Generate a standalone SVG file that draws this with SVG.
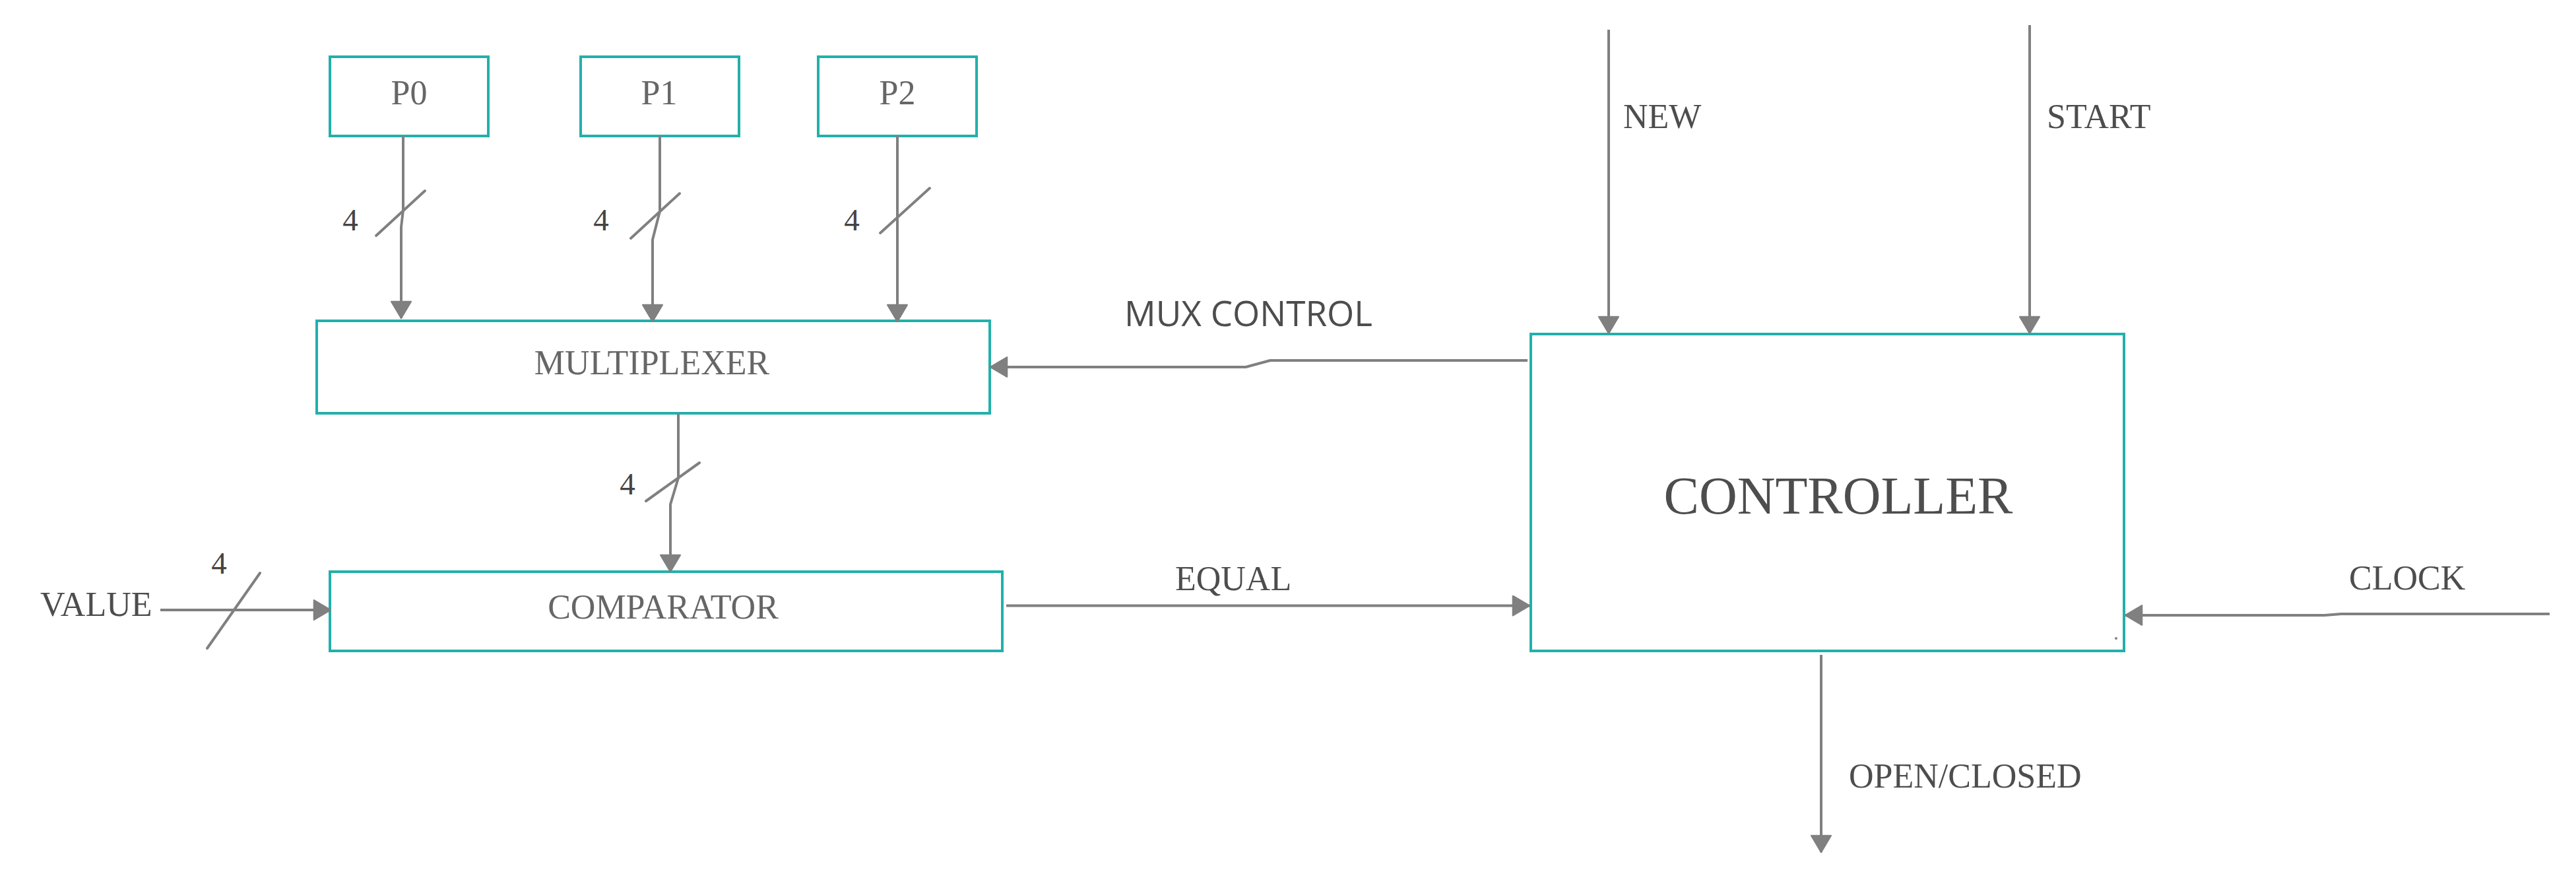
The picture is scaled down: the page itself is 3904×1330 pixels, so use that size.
<svg xmlns="http://www.w3.org/2000/svg" width="3904" height="1330" viewBox="0 0 3904 1330">
<defs>
<style>
.box{fill:#ffffff;stroke:#22b0aa;stroke-width:4}
.t{font-family:"Liberation Serif","Times New Roman",serif;font-size:52px;fill:#666666}
.lbl{font-family:"Liberation Serif","Times New Roman",serif;font-size:52px;fill:#4d4d4d}
.num{font-family:"Liberation Serif","Times New Roman",serif;font-size:47px;fill:#444444;text-anchor:middle}
.sans{font-family:"Open Sans","Noto Sans",sans-serif;font-size:53px;fill:#4d4d4d}
.c{fill:none;stroke:#808080;stroke-width:4;stroke-linejoin:round}
.s{stroke:#808080;stroke-width:4;stroke-linecap:round}
</style>
<marker id="ah" markerUnits="userSpaceOnUse" markerWidth="32" markerHeight="32" viewBox="0 0 24 28" refX="23" refY="14" orient="auto">
<path d="M1,1 L23,14 L1,27 Z" fill="#808080" stroke="#808080" stroke-width="2" stroke-linejoin="round"/>
</marker>
</defs>
<rect width="3904" height="1330" fill="#ffffff"/>

<g id="p0"><rect class="box" x="500" y="86" width="240" height="120"/><text class="t" x="620" y="158" text-anchor="middle">P0</text></g>
<g id="p1"><rect class="box" x="880" y="86" width="240" height="120"/><text class="t" x="999" y="158" text-anchor="middle">P1</text></g>
<g id="p2"><rect class="box" x="1240" y="86" width="240" height="120"/><text class="t" x="1360" y="158" text-anchor="middle">P2</text></g>
<g id="multiplexer"><rect class="box" x="480" y="486" width="1020" height="140"/><text class="t" x="988" y="567" text-anchor="middle">MULTIPLEXER</text></g>
<g id="comparator"><rect class="box" x="500" y="866" width="1019" height="120"/><text class="t" x="1005" y="937" text-anchor="middle">COMPARATOR</text></g>
<g id="controller"><rect class="box" x="2320" y="506" width="899" height="480"/><text class="lbl" x="2786" y="778" text-anchor="middle" style="font-size:80px">CONTROLLER</text><circle cx="3207" cy="967" r="2" fill="#808080"/></g>

<g id="connectors">
<path class="c" d="M611,206 L611,318 L608,344 L608,482" marker-end="url(#ah)"/>
<path class="c" d="M1000,206 L1000,320 L989,363 L989,487" marker-end="url(#ah)"/>
<path class="c" d="M1360,206 L1360,487" marker-end="url(#ah)"/>
<path class="c" d="M1028,626 L1028,724 L1016,764 L1016,866" marker-end="url(#ah)"/>
<path class="c" d="M2315,546 L1925,546 L1888,556 L1501,556" marker-end="url(#ah)"/>
<path class="c" d="M1525,917.5 L2318,917.5" marker-end="url(#ah)"/>
<path class="c" d="M243,924 L501,924" marker-end="url(#ah)"/>
<path class="c" d="M2438,45 L2438,505" marker-end="url(#ah)"/>
<path class="c" d="M3076,38 L3076,505" marker-end="url(#ah)"/>
<path class="c" d="M3864,930 L3548,930 L3523,932 L3221,932" marker-end="url(#ah)"/>
<path class="c" d="M2760,992 L2760,1291" marker-end="url(#ah)"/>
<line class="s" x1="570" y1="357" x2="644" y2="289"/>
<line class="s" x1="956" y1="361" x2="1030" y2="293"/>
<line class="s" x1="1334" y1="353" x2="1409" y2="285"/>
<line class="s" x1="979" y1="759" x2="1060" y2="701"/>
<line class="s" x1="314" y1="982" x2="394" y2="868"/>
<text class="num" x="531" y="349">4</text>
<text class="num" x="911" y="349">4</text>
<text class="num" x="1291" y="349">4</text>
<text class="num" x="951" y="749">4</text>
<text class="num" x="332" y="869">4</text>
<text class="sans" x="1704" y="494">MUX CONTROL</text>
<text class="lbl" x="1781" y="894">EQUAL</text>
<text class="lbl" x="61" y="933">VALUE</text>
<text class="lbl" x="2460" y="194">NEW</text>
<text class="lbl" x="3102" y="194">START</text>
<text class="lbl" x="3560" y="893">CLOCK</text>
<text class="lbl" x="2802" y="1193">OPEN/CLOSED</text>
</g>
</svg>
